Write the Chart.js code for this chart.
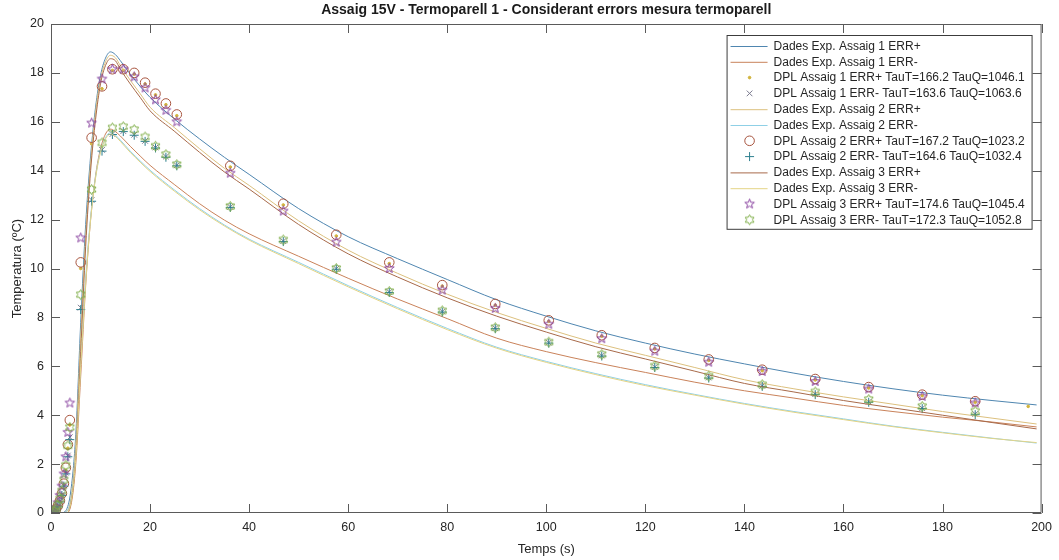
<!DOCTYPE html>
<html>
<head>
<meta charset="utf-8">
<title>Assaig 15V - Termoparell 1</title>
<script src="https://cdn.jsdelivr.net/npm/chart.js"></script>
<style>
  html, body { margin: 0; padding: 0; background: #fff; }
  #wrap { width: 1059px; height: 560px; }
</style>
</head>
<body>
<div id="wrap"><canvas id="chart" width="1059" height="560"></canvas></div>
<script>
// --- DATA ---
const chartTitle = 'Assaig 15V - Termoparell 1 - Considerant errors mesura termoparell';
const xTitle = 'Temps (s)';
const yTitle = 'Temperatura (ºC)';

// experimental curves (time in s, temperature in ºC)
const tExp =      [0, 2, 3,    4,   5,   6,   7,    8,    9,    10,    11,    12,    13,    14,    16,    18,    20,    25,    30,    35,    40,    50,    60,    70,   80,   90,   100,  110,  120,  130,  140,  150,  160,  170,  180,  190,  199];
const exp1Plus =  [0, 0, 0.1,  0.9, 3.2, 7.8, 11.8, 14.6, 16.6, 17.9,  18.6,  18.86, 18.75, 18.5,  17.95, 17.45, 17.0,  16.1,  15.3,  14.55, 13.85, 12.45, 11.3,  10.4, 9.55, 8.72, 8.05, 7.45, 6.95, 6.5,  6.1,  5.72, 5.38, 5.08, 4.82, 4.6,  4.42];
const exp1Minus = [0, 0, 0,    0.3, 2.0, 5.6, 9.3,  12.0, 13.8, 14.9,  15.5,  15.7,  15.6,  15.42, 15.0,  14.6,  14.22, 13.42, 12.65, 11.98, 11.42, 10.5,  9.6,   8.75, 7.95, 7.15, 6.6,  6.15, 5.75, 5.35, 5.0,  4.7,  4.4,  4.15, 3.92, 3.72, 3.52];
const exp2Plus =  [0, 0, 0.05, 0.6, 2.8, 7.2, 11.3, 14.3, 16.4, 17.75, 18.45, 18.72, 18.62, 18.3,  17.7,  17.15, 16.6,  15.75, 14.9,  14.1,  13.4,  11.95, 10.75, 9.8,  8.95, 8.2,  7.55, 6.95, 6.45, 5.95, 5.45, 5.08, 4.75, 4.45, 4.15, 3.88, 3.64];
const exp2Minus = [0, 0, 0.05, 0.5, 2.4, 6.2, 9.6,  12.1, 13.75, 14.8, 15.35, 15.55, 15.45, 15.25, 14.8,  14.4,  14.02, 13.2,  12.45, 11.78, 11.2,  10.25, 9.3,   8.4,  7.55, 6.78, 6.2,  5.7,  5.25, 4.85, 4.48, 4.15, 3.85, 3.55, 3.3,  3.06, 2.86];
const exp3Plus =  [0, 0, 0,    0.4, 2.3, 6.6, 10.9, 14.0, 16.1, 17.55, 18.3,  18.58, 18.5,  18.15, 17.55, 17.0,  16.45, 15.6,  14.75, 13.95, 13.25, 11.8,  10.6,  9.65, 8.8,  8.05, 7.4,  6.8,  6.3,  5.8,  5.3,  4.95, 4.6,  4.3,  4.0,  3.7,  3.44];
const exp3Minus = [0, 0, 0,    0.4, 2.2, 6.0, 9.4,  12.0, 13.7, 14.75, 15.3,  15.5,  15.4,  15.2,  14.75, 14.35, 13.97, 13.15, 12.4,  11.74, 11.16, 10.2,  9.25,  8.35, 7.5,  6.74, 6.16, 5.66, 5.21, 4.82, 4.45, 4.12, 3.82, 3.53, 3.28, 3.05, 2.88];

// DPL model points
const tDpl =      [0.2,  0.6,  1.0,  1.4,  1.8,  2.2,  2.6,  3.0,  3.4,  3.8,  6.0,   8.2,   10.3,  12.4,  14.6,  16.8,  19.0,  21.1,  23.2,  25.4,  36.2,  46.9,  57.6,  68.3,  79.0, 89.7, 100.5, 111.2, 121.9, 132.8, 143.6, 154.3, 165.1, 175.9, 186.6, 197.3];
const dpl1Plus =  [0.02, 0.06, 0.14, 0.28, 0.48, 0.76, 1.15, 1.75, 2.65, 3.6,  10.0,  15.1,  17.35, 18.1,  18.1,  17.95, 17.55, 17.1,  16.7,  16.25, 14.15, 12.6,  11.33, 10.2,  9.28, 8.5,  7.84,  7.23,  6.71,  6.24,  5.82,  5.44,  5.11,  4.8,   4.53,  4.36];
const dpl1Minus = [0.01, 0.05, 0.13, 0.26, 0.47, 0.75, 1.12, 1.65, 2.35, 3.1,  8.4,   12.8,  14.85, 15.5,  15.62, 15.47, 15.22, 14.95, 14.58, 14.22, 12.52, 11.12, 9.99,  9.04,  8.24, 7.56, 6.97,  6.44,  5.97,  5.54,  5.2,   4.86,  4.55,  4.29,  4.05,  null];
const dpl2Plus =  [0.02, 0.06, 0.15, 0.3,  0.5,  0.8,  1.2,  1.85, 2.8,  3.8,  10.25, 15.35, 17.45, 18.15, 18.15, 18.0,  17.6,  17.15, 16.75, 16.3,  14.2,  12.65, 11.38, 10.25, 9.32, 8.55, 7.88,  7.27,  6.75,  6.28,  5.86,  5.48,  5.15,  4.84,  4.57,  null];
const dpl2Minus = [0.01, 0.05, 0.12, 0.25, 0.45, 0.72, 1.1,  1.6,  2.3,  3.0,  8.32,  12.75, 14.8,  15.48, 15.6,  15.45, 15.2,  14.93, 14.55, 14.2,  12.5,  11.1,  9.97,  9.02,  8.22, 7.54, 6.95,  6.42,  5.95,  5.52,  5.18,  4.84,  4.53,  4.27,  4.02,  null];
const dpl3Plus =  [0.03, 0.1,  0.22, 0.42, 0.72, 1.1,  1.6,  2.3,  3.3,  4.5,  11.25, 15.95, 17.75, 18.15, 18.15, 17.84, 17.39, 16.9,  16.47, 16.0,  13.9,  12.35, 11.08, 10.0,  9.12, 8.37, 7.72,  7.13,  6.62,  6.17,  5.79,  5.38,  5.07,  4.77,  4.5,   null];
const dpl3Minus = [0.02, 0.07, 0.17, 0.33, 0.58, 0.9,  1.35, 1.95, 2.75, 3.5,  8.93,  13.23, 15.14, 15.75, 15.8,  15.68, 15.38, 15.0,  14.66, 14.25, 12.54, 11.17, 10.0,  9.06,  8.27, 7.58, 6.99,  6.49,  6.01,  5.6,   5.25,  4.95,  4.64,  4.36,  4.16,  null];

const seriesLabels = [
  'Dades Exp. Assaig 1 ERR+',
  'Dades Exp. Assaig 1 ERR-',
  'DPL Assaig 1 ERR+ TauT=166.2 TauQ=1046.1',
  'DPL Assaig 1 ERR- TauT=163.6 TauQ=1063.6',
  'Dades Exp. Assaig 2 ERR+',
  'Dades Exp. Assaig 2 ERR-',
  'DPL Assaig 2 ERR+ TauT=167.2 TauQ=1023.2',
  'DPL Assaig 2 ERR- TauT=164.6 TauQ=1032.4',
  'Dades Exp. Assaig 3 ERR+',
  'Dades Exp. Assaig 3 ERR-',
  'DPL Assaig 3 ERR+ TauT=174.6 TauQ=1045.4',
  'DPL Assaig 3 ERR- TauT=172.3 TauQ=1052.8'
];

// --- helpers ---
const FONT = "'Liberation Sans', Arial, Helvetica, sans-serif";

function pts(ts, vs) {
  return ts.map((t, i) => ({ x: t, y: vs[i] })).filter(p => p.y !== null);
}

// outline star marker (pentagram / hexagram) as a small canvas
function starMarker(color, spikes, outerR, innerR) {
  const size = Math.ceil(outerR * 2 + 3);
  const c = document.createElement('canvas');
  c.width = size; c.height = size;
  const g = c.getContext('2d');
  g.strokeStyle = color;
  g.lineWidth = 1;
  g.beginPath();
  for (let i = 0; i < spikes * 2; i++) {
    const r = i % 2 === 0 ? outerR : innerR;
    const a = -Math.PI / 2 + i * Math.PI / spikes;
    const px = size / 2 + r * Math.cos(a), py = size / 2 + r * Math.sin(a);
    if (i === 0) g.moveTo(px, py); else g.lineTo(px, py);
  }
  g.closePath();
  g.stroke();
  return c;
}

function lineSet(label, data, color, order) {
  return {
    label, data: pts(tExp, data), showLine: true,
    borderColor: color, borderWidth: 1, pointRadius: 0,
    cubicInterpolationMode: 'monotone', order, _kind: 'line'
  };
}

function markerSet(label, data, color, style, radius, order, fill) {
  return {
    label, data: pts(tDpl, data), showLine: false,
    pointStyle: style, pointRadius: radius, pointBorderWidth: 1,
    borderColor: color, backgroundColor: fill ? color : 'rgba(0,0,0,0)',
    pointBorderColor: color, pointBackgroundColor: fill ? color : 'rgba(0,0,0,0)',
    order, _kind: 'marker'
  };
}

const pentagram = starMarker('#8a44a0', 5, 5, 2.1);
const hexagram = starMarker('#7fae48', 6, 5, 2.9);

// later series are drawn on top (like the original plot)
const datasets = [
  lineSet(seriesLabels[0], exp1Plus, '#4f86b0', 12),
  lineSet(seriesLabels[1], exp1Minus, '#c9825a', 11),
  markerSet(seriesLabels[2], dpl1Plus, '#d2b43c', 'circle', 1.3, 10, true),
  markerSet(seriesLabels[3], dpl1Minus, '#7c7c90', 'crossRot', 4, 9, false),
  lineSet(seriesLabels[4], exp2Plus, '#dcc07e', 8),
  lineSet(seriesLabels[5], exp2Minus, '#8fd0e6', 7),
  markerSet(seriesLabels[6], dpl2Plus, '#a8553f', 'circle', 4.8, 6, false),
  markerSet(seriesLabels[7], dpl2Minus, '#2d7f8f', 'cross', 4.5, 5, false),
  lineSet(seriesLabels[8], exp3Plus, '#a86a4a', 4),
  lineSet(seriesLabels[9], exp3Minus, '#e4d486', 3),
  markerSet(seriesLabels[10], dpl3Plus, '#8a44a0', pentagram, 5, 2, false),
  markerSet(seriesLabels[11], dpl3Minus, '#7fae48', hexagram, 5, 1, false)
];

// --- plugins: figure title, boxed axes with inner ticks, legend ---
const figureTitle = {
  id: 'figureTitle',
  afterDraw(chart) {
    const { ctx, chartArea } = chart;
    ctx.save();
    ctx.font = 'bold 14px ' + FONT;
    ctx.fillStyle = '#1a1a1a';
    ctx.textAlign = 'center';
    ctx.textBaseline = 'middle';
    ctx.fillText(chartTitle, (chartArea.left + chartArea.right) / 2, 10);
    ctx.restore();
  }
};

const boxAxes = {
  id: 'boxAxes',
  afterDatasetsDraw(chart) {
    const { ctx, chartArea: a, scales } = chart;
    const tl = 9;
    ctx.save();
    ctx.strokeStyle = '#5a5a5a';
    ctx.lineWidth = 1;
    ctx.beginPath();
    ctx.rect(a.left + 0.5, a.top + 0.5, a.right - a.left - 1, a.bottom - a.top - 1);
    scales.x.ticks.forEach(t => {
      const px = Math.round(scales.x.getPixelForValue(t.value)) + 0.5;
      ctx.moveTo(px, a.bottom); ctx.lineTo(px, a.bottom - tl);
      ctx.moveTo(px, a.top); ctx.lineTo(px, a.top + tl);
    });
    scales.y.ticks.forEach(t => {
      const py = Math.round(scales.y.getPixelForValue(t.value)) + 0.5;
      ctx.moveTo(a.left, py); ctx.lineTo(a.left + tl, py);
      ctx.moveTo(a.right, py); ctx.lineTo(a.right - tl, py);
    });
    ctx.stroke();
    ctx.restore();
  }
};

const boxLegend = {
  id: 'boxLegend',
  afterDraw(chart) {
    const { ctx, chartArea: a } = chart;
    const w = 305, rowH = 15.8;
    const n = chart.data.datasets.length;
    const h = rowH * (n - 1) + 20;
    const x0 = a.right - 10 - w, y0 = a.top + 11;
    ctx.save();
    ctx.fillStyle = '#fff';
    ctx.fillRect(x0, y0, w, h);
    ctx.strokeStyle = '#3c3c3c';
    ctx.lineWidth = 1;
    ctx.strokeRect(x0 + 0.5, y0 + 0.5, w, h);
    ctx.font = '12px ' + FONT;
    ctx.textBaseline = 'middle';
    chart.data.datasets.forEach((ds, i) => {
      const y = y0 + 11 + i * rowH;
      if (ds._kind === 'line') {
        ctx.strokeStyle = ds.borderColor;
        ctx.lineWidth = 1;
        ctx.beginPath();
        ctx.moveTo(x0 + 4, y + 0.5);
        ctx.lineTo(x0 + 41, y + 0.5);
        ctx.stroke();
      } else {
        ctx.strokeStyle = ds.pointBorderColor;
        ctx.fillStyle = ds.pointBackgroundColor;
        ctx.lineWidth = 1;
        Chart.helpers.drawPoint(ctx, {
          pointStyle: ds.pointStyle, radius: ds.pointRadius, borderWidth: 1, rotation: 0
        }, x0 + 23, y);
      }
      ctx.fillStyle = '#262626';
      ctx.fillText(ds.label, x0 + 47, y + 0.5);
    });
    ctx.restore();
  }
};

new Chart(document.getElementById('chart'), {
  type: 'scatter',
  data: { datasets },
  options: {
    responsive: false,
    animation: false,
    devicePixelRatio: 1,
    layout: { padding: { top: 24, right: 17, left: 0, bottom: 0 } },
    plugins: {
      legend: { display: false },
      tooltip: { enabled: false },
      title: { display: false }
    },
    scales: {
      x: {
        type: 'linear', min: 0, max: 200,
        grid: { display: false, drawTicks: false },
        border: { display: false },
        ticks: { stepSize: 20, color: '#262626', padding: 7, font: { family: FONT, size: 12.5 } },
        title: { display: true, text: xTitle, color: '#262626', padding: { top: 0, bottom: 3 }, font: { family: FONT, size: 13 } },
        afterFit: s => { s.height = 47; }
      },
      y: {
        type: 'linear', min: 0, max: 20,
        grid: { display: false, drawTicks: false },
        border: { display: false },
        ticks: { stepSize: 2, color: '#262626', padding: 7, font: { family: FONT, size: 12.5 } },
        title: { display: true, text: yTitle, color: '#262626', padding: { top: 10, bottom: 0 }, font: { family: FONT, size: 13 } },
        afterFit: s => { s.width = 51; }
      }
    }
  },
  plugins: [boxAxes, figureTitle, boxLegend]
});
</script>
</body>
</html>
